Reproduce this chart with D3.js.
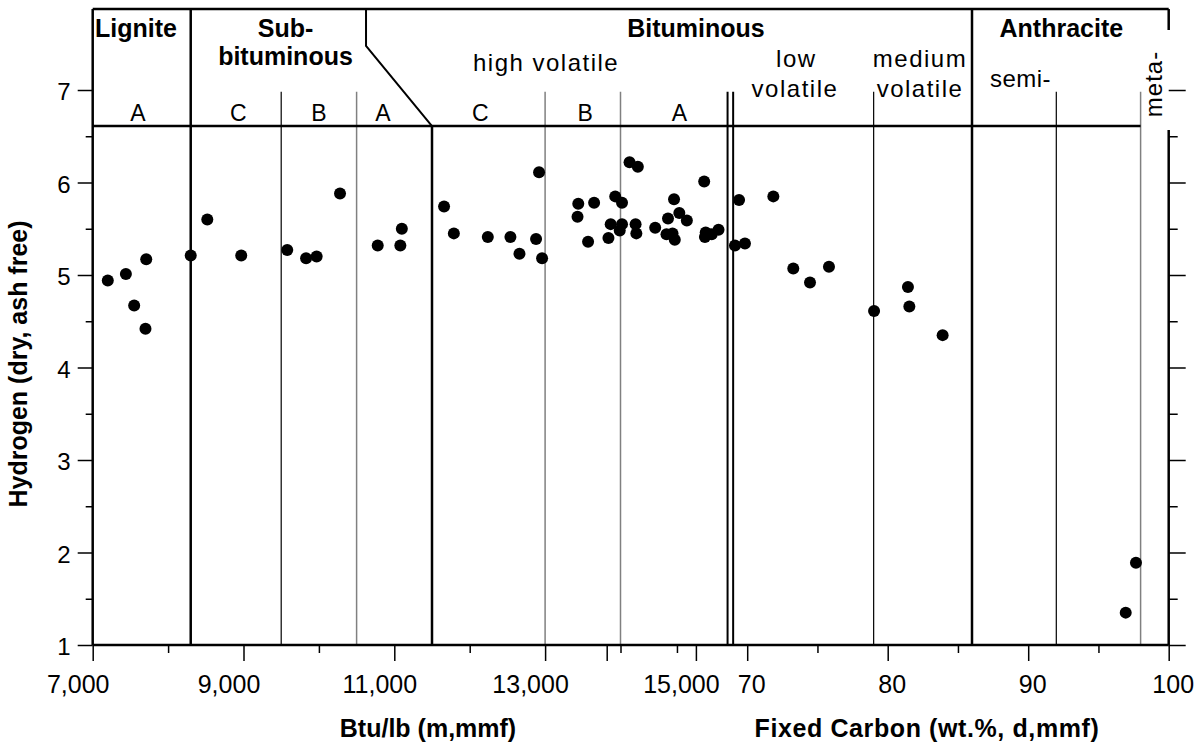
<!DOCTYPE html>
<html>
<head>
<meta charset="utf-8">
<script src="https://cdn.jsdelivr.net/npm/d3@7"></script>
<style>
body { margin: 0; background: #fff; }
svg text { font-family: Arial, "Liberation Sans", sans-serif; fill: #000; }
</style>
</head>
<body>
<div id="chart"></div>
<script>
var width = 1201,
    height = 745;

// samples plotted against calorific value (Btu/lb, m,mmf)
var btuSamples = [7200, 7440, 7550, 7710, 7700, 8300, 8520, 8970, 9580, 9830,
    9970, 10280, 10780, 11080, 11100, 11660, 11790, 12240, 12540, 12660,
    12880, 12920, 12960, 13440, 13430, 13650, 13570, 13840, 13870, 13930,
    14020, 14020, 13990, 14120, 14230, 14200, 14210, 14460, 14710, 14630,
    14780, 14880, 14610, 14690, 14720, 15110, 15130, 15120, 15210, 15300];
var btuHydrogen = [4.94, 5.01, 4.67, 5.17, 4.42, 5.21, 5.60, 5.21, 5.27, 5.18,
    5.20, 5.88, 5.32, 5.32, 5.50, 5.74, 5.45, 5.41, 5.41, 5.23,
    5.39, 6.11, 5.18, 5.77, 5.63, 5.78, 5.36, 5.40, 5.55, 5.85,
    5.78, 5.55, 5.48, 6.22, 6.17, 5.55, 5.45, 5.51, 5.82, 5.61,
    5.67, 5.59, 5.44, 5.45, 5.38, 6.01, 5.46, 5.41, 5.44, 5.49];

// samples plotted against fixed carbon (wt.%, d,mmf)
var fcSamples = [69.42, 69.13, 69.84, 71.86, 73.28, 74.47, 75.82, 79.03, 81.44, 81.54, 83.91, 97.67, 96.94];
var fcHydrogen = [5.81, 5.32, 5.34, 5.85, 5.07, 4.92, 5.09, 4.61, 4.87, 4.66, 4.35, 1.89, 1.35];

// rank boundaries
var btuBounds = [8300, 9500, 10500, 11500, 13000, 14000, 15420];
var fcBounds = [69, 79, 86, 92, 98];
var btuRankLetters = ["A", "C", "B", "A", "C", "B", "A"];
var btuRankLetterAt = [7600, 8930, 10000, 10850, 12140, 13530, 14780];

// tick values
var btuMajor = [7000, 9000, 11000, 13000, 15000],
    btuMinor = [8000, 10000, 12000, 14000];
var fcMajor = [60, 70, 80, 90, 100],
    fcMinor = [65, 75, 85, 95];
var hMajor = [1, 2, 3, 4, 5, 6, 7],
    hMinor = [1.5, 2.5, 3.5, 4.5, 5.5, 6.5];

var x_left = 92.7,
    x_right = 1168.7;

var btu = d3.scaleLinear().domain([7000, 15000]).range([x_left, x_left + 603.2]);
var fc = d3.scaleLinear().domain([60, 100]).range([606.7, x_right]);
var y = d3.scaleLinear().domain([1, 7]).range([645, 90]);

var y_bottom = y(1),
    y_top = y(7.875),
    y_head = y(6.61),
    y_sub = y(6.98);

var svg = d3.select("#chart").append("svg")
    .attr("width", width)
    .attr("height", height);

var line = function (x1, y1, x2, y2, w, col) {
    svg.append("line")
        .attr("x1", x1).attr("y1", y1)
        .attr("x2", x2).attr("y2", y2)
        .style("stroke", col || "#000")
        .style("stroke-width", w);
};

// rank boundaries
var btuStyle = {8300: [2.5, "#000"], 9500: [1.2, "#000"], 10500: [1.5, "#808080"],
    11500: [2.5, "#000"], 13000: [1.5, "#808080"], 14000: [1.5, "#808080"], 15420: [2, "#000"]};
var fcStyle = {69: [2, "#000"], 79: [1.2, "#000"], 86: [2.5, "#000"], 92: [1.2, "#000"], 98: [1.5, "#808080"]};

btuBounds.forEach(function (b) {
    var s = btuStyle[b];
    var top = y_sub;
    if (b === 8300) top = y_top;
    if (b === 11500) top = y_head;
    line(btu(b), top, btu(b), y_bottom, s[0], s[1]);
});
fcBounds.forEach(function (b) {
    var s = fcStyle[b];
    line(fc(b), b === 86 ? y_top : y_sub, fc(b), y_bottom, s[0], s[1]);
});

// sub-bituminous / bituminous break
svg.append("path")
    .attr("d", "M" + btu(10625) + "," + y_top + "V" + y(7.476) + "L" + btu(11500) + "," + y_head)
    .style("fill", "none")
    .style("stroke", "#000")
    .style("stroke-width", 2);

// frame
line(x_left, y_top, x_right, y_top, 2.5);
line(x_left, y_top, x_left, y_bottom, 2.5);
line(x_left, y_bottom, x_right, y_bottom, 2.5);
line(x_right, y_top, x_right, 30, 2.5);
line(x_right, 130, x_right, y_bottom, 2.5);
line(x_left, y_head, fc(98), y_head, 2.5);

// axes
var styleAxis = function (g, fs) {
    g.select(".domain").remove();
    g.selectAll(".tick line").style("stroke", "#000").style("stroke-width", 1.5);
    g.selectAll(".tick text").style("font-size", fs + "px").style("font-family", "Arial, 'Liberation Sans', sans-serif");
};

svg.append("g").attr("transform", "translate(" + x_left + ",0)")
    .call(d3.axisLeft(y).tickValues(hMajor).tickSize(15).tickPadding(7).tickFormat(d3.format("d")))
    .call(styleAxis, 24)
    .selectAll(".tick text").attr("dy", "0.4em");
svg.append("g").attr("transform", "translate(" + x_left + ",0)")
    .call(d3.axisLeft(y).tickValues(hMinor).tickSize(7).tickFormat(""))
    .call(styleAxis, 24);

svg.append("g").attr("transform", "translate(" + x_right + ",0)")
    .call(d3.axisRight(y).tickValues(hMajor).tickSize(17).tickFormat(""))
    .call(styleAxis, 24);
svg.append("g").attr("transform", "translate(" + x_right + ",0)")
    .call(d3.axisRight(y).tickValues(hMinor).tickSize(9).tickFormat(""))
    .call(styleAxis, 24);

svg.append("g").attr("transform", "translate(0," + y_bottom + ")")
    .call(d3.axisBottom(btu).tickValues(btuMajor).tickSize(16).tickPadding(14.5).tickFormat(d3.format(",")))
    .call(styleAxis, 25)
    .selectAll(".tick text").attr("dx", -15);
svg.append("g").attr("transform", "translate(0," + y_bottom + ")")
    .call(d3.axisBottom(btu).tickValues(btuMinor).tickSize(8).tickFormat(""))
    .call(styleAxis, 25);

svg.append("g").attr("transform", "translate(0," + y_bottom + ")")
    .call(d3.axisBottom(fc).tickValues(fcMajor).tickSize(16).tickPadding(14.5)
        .tickFormat(function (d) { return d === 60 ? "" : d; }))
    .call(styleAxis, 25)
    .selectAll(".tick text").attr("dx", 4);
svg.append("g").attr("transform", "translate(0," + y_bottom + ")")
    .call(d3.axisBottom(fc).tickValues(fcMinor).tickSize(8).tickFormat(""))
    .call(styleAxis, 25);

// axis titles
svg.append("text")
    .attr("transform", "translate(27," + 364 + ") rotate(-90)")
    .attr("text-anchor", "middle")
    .style("font-size", "25px").style("font-weight", "bold")
    .text("Hydrogen (dry, ash free)");
svg.append("text")
    .attr("x", 428).attr("y", 737)
    .attr("text-anchor", "middle")
    .style("font-size", "25px").style("font-weight", "bold")
    .text("Btu/lb (m,mmf)");
svg.append("text")
    .attr("x", 927).attr("y", 737)
    .attr("text-anchor", "middle")
    .style("font-size", "25px").style("font-weight", "bold")
    .style("letter-spacing", "0.6px")
    .text("Fixed Carbon (wt.%, d,mmf)");

// header labels
var label = function (x, yy, txt, bold, fs, spacing) {
    return svg.append("text")
        .attr("x", x).attr("y", yy)
        .attr("text-anchor", "middle")
        .style("font-size", fs + "px")
        .style("font-weight", bold ? "bold" : "normal")
        .style("letter-spacing", (spacing || 0) + "px")
        .text(txt);
};

label(btu(7575), 37.3, "Lignite", true, 25);
label(btu(9557), 37.3, "Sub-", true, 25);
label(btu(9557), 65, "bituminous", true, 25);
label(btu(15000), 37.3, "Bituminous", true, 25);
label(fc(92.36), 37.3, "Anthracite", true, 25);
label(btu(13000) + 1, 70.7, "high volatile", false, 24, 1.5);
label(fc(73.5), 67, "low", false, 24, 1.5);
label(fc(73.4), 97, "volatile", false, 24, 1.5);
label(fc(82.3), 67, "medium", false, 24, 1.5);
label(fc(82.3), 97, "volatile", false, 24, 1.5);
label(fc(89.45), 87.3, "semi-", false, 24, 0.5);
svg.append("text")
    .attr("transform", "translate(" + 1161.7 + ",84) rotate(-90)")
    .attr("text-anchor", "middle")
    .style("font-size", "24px")
    .style("letter-spacing", "1px")
    .text("meta-");

btuRankLetters.forEach(function (t, i) {
    label(btu(btuRankLetterAt[i]), 120.7, t, false, 23);
});

// samples
svg.selectAll("circle.btu")
    .data(btuSamples)
    .enter()
    .append("circle")
    .attr("class", "btu")
    .attr("cx", function (d) { return btu(d); })
    .attr("cy", function (d, i) { return y(btuHydrogen[i]); })
    .attr("r", 6)
    .style("fill", "#000");

svg.selectAll("circle.fc")
    .data(fcSamples)
    .enter()
    .append("circle")
    .attr("class", "fc")
    .attr("cx", function (d) { return fc(d); })
    .attr("cy", function (d, i) { return y(fcHydrogen[i]); })
    .attr("r", 6)
    .style("fill", "#000");
</script>
</body>
</html>
